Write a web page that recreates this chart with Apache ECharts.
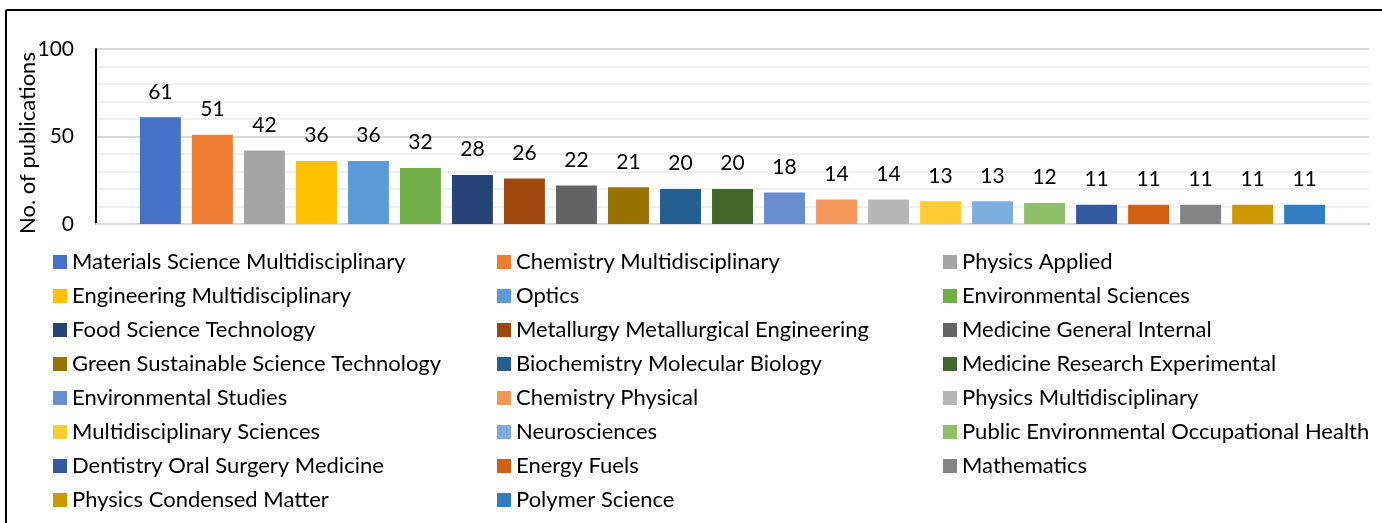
<!DOCTYPE html>
<html>
<head>
<meta charset="utf-8">
<script src="https://cdn.jsdelivr.net/npm/echarts@6/dist/echarts.min.js"></script>
<style>
html,body{margin:0;padding:0;background:#fff;}
#c{width:1382px;height:523px;}
</style>
</head>
<body>
<div id="c"></div>
<script>
const categories = [
  "Materials Science Multidisciplinary","Chemistry Multidisciplinary","Physics Applied",
  "Engineering Multidisciplinary","Optics","Environmental Sciences",
  "Food Science Technology","Metallurgy Metallurgical Engineering","Medicine General Internal",
  "Green Sustainable Science Technology","Biochemistry Molecular Biology","Medicine Research Experimental",
  "Environmental Studies","Chemistry Physical","Physics Multidisciplinary",
  "Multidisciplinary Sciences","Neurosciences","Public Environmental Occupational Health",
  "Dentistry Oral Surgery Medicine","Energy Fuels","Mathematics",
  "Physics Condensed Matter","Polymer Science"
];
const values = [61,51,42,36,36,32,28,26,22,21,20,20,18,14,14,13,13,12,11,11,11,11,11];
const colors = [
  "#4472C4","#ED7D31","#A5A5A5","#FFC000","#5B9BD5","#70AD47",
  "#264478","#9E480E","#636363","#997300","#255E91","#43682B",
  "#698ED0","#F1975A","#B7B7B7","#FFCD33","#7CAFDD","#8CC168",
  "#335AA1","#D26012","#848484","#CC9A00","#327DC2"
];
const yTicks = [0,50,100];
const yAxisTitle = 'No. of publications';

const FONT = "Lato";
const chart = echarts.init(document.getElementById('c'));

const series = categories.map((name,i)=>({
  name: name,
  type: 'bar',
  data: [values[i]],
  itemStyle: {color: colors[i]},
  barGap: '27%',
  barCategoryGap: '6.9%',
  label: {show:true, position:'top', distance:15, color:'#000', fontSize:21, fontFamily:FONT},
  emphasis:{disabled:true}
}));

const colX = [53, 497, 943];
const legends = colX.map((x,c)=>({
  orient:'vertical',
  left:x, top:250, height:275,
  padding:0,
  itemWidth:14, itemHeight:14,
  itemGap:10,
  icon:'rect',
  selectedMode:false,
  textStyle:{fontSize:22, fontFamily:FONT, color:'#000', lineHeight:24, padding:[0,0,0,0]},
  data: categories.filter((_,i)=>i%3===c)
}));

chart.setOption({
  animation:false,
  color: colors,
  legend: legends,
  grid:{left:96, right:13, top:49, bottom:299, containLabel:false, outerBoundsMode:'none'},
  xAxis:{
    type:'category', data:[''],
    axisLine:{lineStyle:{color:'#d9d9d9', width:2}},
    axisTick:{show:false}, axisLabel:{show:false}
  },
  yAxis:{
    type:'value', min:yTicks[0], max:yTicks[yTicks.length-1], interval:50,
    axisLine:{show:true, lineStyle:{color:'#000', width:2}},
    axisTick:{show:false},
    axisLabel:{fontSize:21, fontFamily:FONT, color:'#000', margin:22},
    splitLine:{lineStyle:{color:'#d9d9d9', width:2}},
    minorTick:{show:false, splitNumber:5},
    minorSplitLine:{show:true, lineStyle:{color:'#f0f0f0', width:2}}
  },
  graphic:[
    {type:'line', shape:{x1:6,y1:10,x2:1382,y2:10}, style:{stroke:'#000', lineWidth:2}},
    {type:'line', shape:{x1:6,y1:10,x2:6,y2:523}, style:{stroke:'#000', lineWidth:2}},
    {type:'text', x:28, y:143, rotation:Math.PI/2,
     style:{text:yAxisTitle, fontSize:22, fontFamily:FONT, fill:'#000', align:'center', verticalAlign:'middle'}}
  ],
  series: series
});
</script>
</body>
</html>
